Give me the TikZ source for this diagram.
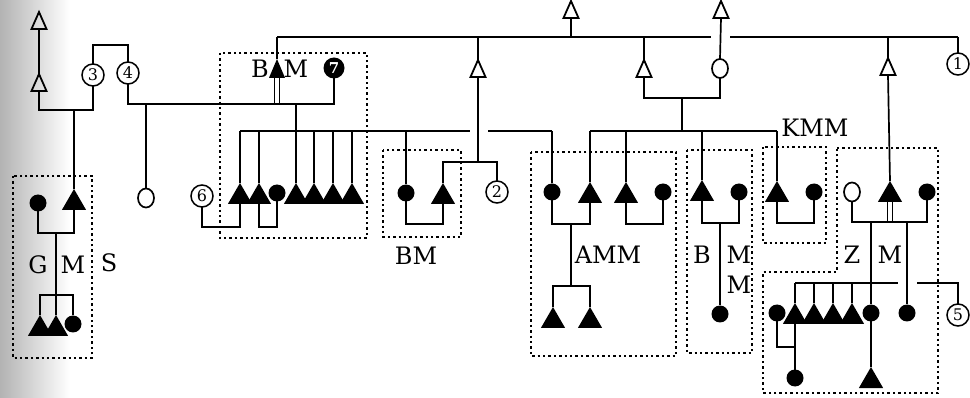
\documentclass[tikz,border=0pt]{standalone}
\usepackage{fontspec}
\setmainfont{DejaVu Serif}
\usetikzlibrary{shapes.geometric}
\begin{document}
\begin{tikzpicture}[x=1pt,y=-1pt,
  ln/.style={line width=1.7pt},
  dbox/.style={line width=2.4pt, dash pattern=on 2.4pt off 3pt},
  otri/.style={draw, line width=1.8pt, isosceles triangle, shape border rotate=90, isosceles triangle stretches=true, minimum width=15pt, minimum height=17pt, inner sep=0pt, outer sep=0pt, anchor=apex},
  ftri/.style={fill=black, isosceles triangle, shape border rotate=90, isosceles triangle apex angle=60, isosceles triangle stretches=false, minimum size=21pt, inner sep=0pt, outer sep=0pt, anchor=apex},
  stri/.style={fill=black, isosceles triangle, shape border rotate=90, isosceles triangle apex angle=46, isosceles triangle stretches=false, minimum size=16pt, inner sep=0pt, outer sep=0pt, anchor=apex},
  fcirc/.style={circle, fill=black, inner sep=0pt, outer sep=0pt, minimum size=17pt},
  ocirc/.style={ellipse, draw, line width=1.7pt, inner sep=0pt, outer sep=0pt, minimum width=16pt, minimum height=19pt},
  num/.style={circle, draw, line width=1.5pt, inner sep=0pt, outer sep=0pt, minimum size=22pt, font=\fontsize{16}{16}\selectfont},
  bnum/.style={circle, fill=black, text=white, inner sep=0pt, outer sep=0pt, minimum size=21pt, font=\bfseries\fontsize{15}{15}\selectfont},
  lab/.style={inner sep=0pt, font=\fontsize{24}{24}\selectfont}
]
\useasboundingbox (0,0) rectangle (970,398);
\shade[left color=black!30, right color=white] (0,0) rectangle (70,398);

% ---------- dotted boxes ----------
\draw[dbox] (13,176) rectangle (92,358);
\draw[dbox] (220,53) rectangle (367,238);
\draw[dbox] (383,150) rectangle (461,237);
\draw[dbox] (531,152) rectangle (676,356);
\draw[dbox] (687,150) rectangle (752,353);
\draw[dbox] (763,147) rectangle (826,243);
\draw[dbox] (837,148) -- (938,148) -- (938,393) -- (763,393) -- (763,272) -- (837,272) -- cycle;

% ---------- persons ----------
% open triangles
\node[otri] (t0) at (39,12) {};
\node[otri] (t1) at (39,74) {};
\node[otri] (tA) at (571,1) {};
\node[otri] (tB) at (721,1) {};
\node[otri] (t2) at (478,60) {};
\node[otri] (t3) at (644,60) {};
\node[otri] (t4) at (888,58) {};
% open circles
\node[ocirc] (w0) at (146,198) {};
\node[ocirc] (w1) at (720,68.5) {};
\node[ocirc] (z1) at (852,192) {};
% numbered circles
\node[num] (n1) at (958,64) {1};
\node[num] (n2) at (497,192) {2};
\node[num] (n3) at (93,75) {3};
\node[num] (n4) at (128,73) {4};
\node[num] (n5) at (958,315) {5};
\node[num] (n6) at (202,196) {6};
\node[bnum] (n7) at (334,68) {7};
% filled triangles
\node[stri] (bam) at (277,59) {};
\node[ftri] (b1) at (240,183) {};
\node[ftri] (b2) at (259,183) {};
\node[ftri] (b4) at (296,183) {};
\node[ftri] (b5) at (314,183) {};
\node[ftri] (b6) at (333,183) {};
\node[ftri] (b7) at (352,183) {};
\node[ftri] (bm2) at (443,183) {};
\node[ftri] (a2) at (590,182) {};
\node[ftri] (a3) at (626,182) {};
\node[ftri] (a5) at (553,307) {};
\node[ftri] (a6) at (590,307) {};
\node[ftri] (m1) at (702,180) {};
\node[ftri] (k1) at (777,181) {};
\node[ftri] (z2) at (890,181) {};
\node[ftri] (r2) at (795,303) {};
\node[ftri] (r3) at (814,303) {};
\node[ftri] (r4) at (833,303) {};
\node[ftri] (r5) at (852,303) {};
\node[ftri] (r9) at (871,367) {};
\node[ftri] (s2) at (74,189) {};
\node[ftri] (s3) at (40,315) {};
\node[ftri] (s4) at (56,315) {};
% filled circles
\node[fcirc] (b3) at (277,193) {};
\node[fcirc] (bm1) at (406,193) {};
\node[fcirc] (a1) at (552,192) {};
\node[fcirc] (a4) at (663,192) {};
\node[fcirc] (m2) at (739,192) {};
\node[fcirc] (m3) at (720,314) {};
\node[fcirc] (k2) at (814,192) {};
\node[fcirc] (z3) at (927,192) {};
\node[fcirc] (r1) at (777,313) {};
\node[fcirc] (r6) at (871,313) {};
\node[fcirc] (r7) at (907,313) {};
\node[fcirc] (r8) at (795,378) {};
\node[fcirc] (s1) at (38,203) {};
\node[fcirc] (s5) at (73,324) {};

% ---------- labels ----------
\node[lab] (lG) at (38,265) {G};
\node[lab] (lM1) at (73,265) {M};
\node[lab] (lS) at (109,263) {S};
\node[lab] (lB1) at (260,69) {B};
\node[lab] (lM2) at (296,69) {M};
\node[lab] (lBM) at (416,256) {BM};
\node[lab] (lAMM) at (608,255) {AMM};
\node[lab] (lB2) at (702,255) {B};
\node[lab] (lM3) at (739,255) {M};
\node[lab] (lM4) at (739,285) {M};
\node[lab] (lKMM) at (815,128) {KMM};
\node[lab] (lZ) at (852,255) {Z};
\node[lab] (lM5) at (890,255) {M};

% ---------- connectors ----------
% top left family
\draw[ln] (t0.lower side) -- (t1.apex);
\draw[ln] (t1.lower side) -- (t1.lower side |- 0,110) -- (n3.south |- 0,110) -- (n3.south);
\draw[ln] (s2.apex |- 0,110) -- (s2.apex);
\draw[ln] (n3.north) -- (n3.north |- 0,45) -- (n4.north |- 0,45) -- (n4.north);
% S box
\draw[ln] (s1.south) -- (s1.south |- 0,233) -- (s2.lower side |- 0,233) -- (s2.lower side);
\draw[ln] (s4.apex |- 0,233) -- (s4.apex);
\draw[ln] (s3.apex) -- (s3.apex |- 0,295) -- (s5.north |- 0,295) -- (s5.north);

% couple 4 - BAM - 7
\draw[ln] (n4.south) -- (n4.south |- 0,104) -- (n7.south |- 0,104) -- (n7.south);
\draw[ln] ([xshift=-2.5pt]bam.lower side) -- ([xshift=-2.5pt]bam.lower side |- 0,104);
\draw[ln] ([xshift=2.5pt]bam.lower side) -- ([xshift=2.5pt]bam.lower side |- 0,104);
\draw[ln] (w0.north |- 0,104) -- (w0.north);
\draw[ln] (b4.apex |- 0,104) -- (b4.apex);
% children line of BAM
\draw[ln] (b1.apex |- 0,131) -- (470,131);
\draw[ln] (488,131) -- (a1.north |- 0,131);
\foreach \n in {b1,b2,b5,b6,b7} \draw[ln] (\n.apex |- 0,131) -- (\n.apex);
\draw[ln] (bm1.north |- 0,131) -- (bm1.north);
\draw[ln] (a1.north |- 0,131) -- (a1.north);
% brackets in BAM box
\draw[ln] (n6.south) -- (n6.south |- 0,227) -- (b1.lower side |- 0,227) -- (b1.lower side);
\draw[ln] (b2.lower side) -- (b2.lower side |- 0,227) -- (b3.south |- 0,227) -- (b3.south);

% big sibling line
\draw[ln] (tA.lower side) -- (tA.lower side |- 0,37);
\draw[ln] (bam.apex |- 0,37) -- (711,37);
\draw[ln] (730,37) -- (n1.north |- 0,37);
\draw[ln] (bam.apex |- 0,37) -- (bam.apex);
\draw[ln] (t2.apex |- 0,37) -- (t2.apex);
\draw[ln] (t3.apex |- 0,37) -- (t3.apex);
\draw[ln] (t4.apex |- 0,37) -- (t4.apex);
\draw[ln] (n1.north |- 0,37) -- (n1.north);
\draw[ln] (tB.lower side) -- (w1.north);

% Delta 478 branch
\draw[ln] (t2.lower side) -- (t2.lower side |- 0,162);
\draw[ln] (bm2.apex) -- (bm2.apex |- 0,162) -- (n2.north |- 0,162) -- (n2.north);
\draw[ln] (bm1.south) -- (bm1.south |- 0,224) -- (bm2.lower side |- 0,224) -- (bm2.lower side);

% couple Delta 644 - circle 720
\draw[ln] (t3.lower side) -- (t3.lower side |- 0,98) -- (w1.south |- 0,98) -- (w1.south);
\draw[ln] (682,98) -- (682,131);
\draw[ln] (a2.apex |- 0,131) -- (k1.apex |- 0,131);
\foreach \n in {a2,a3,m1,k1} \draw[ln] (\n.apex |- 0,131) -- (\n.apex);

% AMM box
\draw[ln] (a1.south) -- (a1.south |- 0,224) -- (a2.lower side |- 0,224) -- (a2.lower side);
\draw[ln] (571,224) -- (571,286);
\draw[ln] (a5.apex) -- (a5.apex |- 0,286) -- (a6.apex |- 0,286) -- (a6.apex);
\draw[ln] (a3.lower side) -- (a3.lower side |- 0,224) -- (a4.south |- 0,224) -- (a4.south);

% BMM box
\draw[ln] (m1.lower side) -- (m1.lower side |- 0,223) -- (m2.south |- 0,223) -- (m2.south);
\draw[ln] (m3.north |- 0,223) -- (m3.north);

% KMM box
\draw[ln] (k1.lower side) -- (k1.lower side |- 0,223) -- (k2.south |- 0,223) -- (k2.south);

% Z box
\draw[ln] (t4.lower side) -- (z2.apex);
\draw[ln] (z1.south) -- (z1.south |- 0,222) -- (z3.south |- 0,222) -- (z3.south);
\draw[ln] ([xshift=-2.5pt]z2.lower side) -- ([xshift=-2.5pt]z2.lower side |- 0,222);
\draw[ln] ([xshift=2.5pt]z2.lower side) -- ([xshift=2.5pt]z2.lower side |- 0,222);
\draw[ln] (r6.north |- 0,222) -- (r6.north);
\draw[ln] (r7.north |- 0,222) -- (r7.north);
\draw[ln] (r2.apex |- 0,283) -- (898,283);
\draw[ln] (917,283) -- (n5.north |- 0,283) -- (n5.north);
\foreach \n in {r2,r3,r4,r5} \draw[ln] (\n.apex |- 0,283) -- (\n.apex);
\draw[ln] (r1.south) -- (r1.south |- 0,347) -- (r2.lower side |- 0,347);
\draw[ln] (r2.lower side) -- (r8.north);
\draw[ln] (r6.south) -- (r9.apex);
\end{tikzpicture}
\end{document}
